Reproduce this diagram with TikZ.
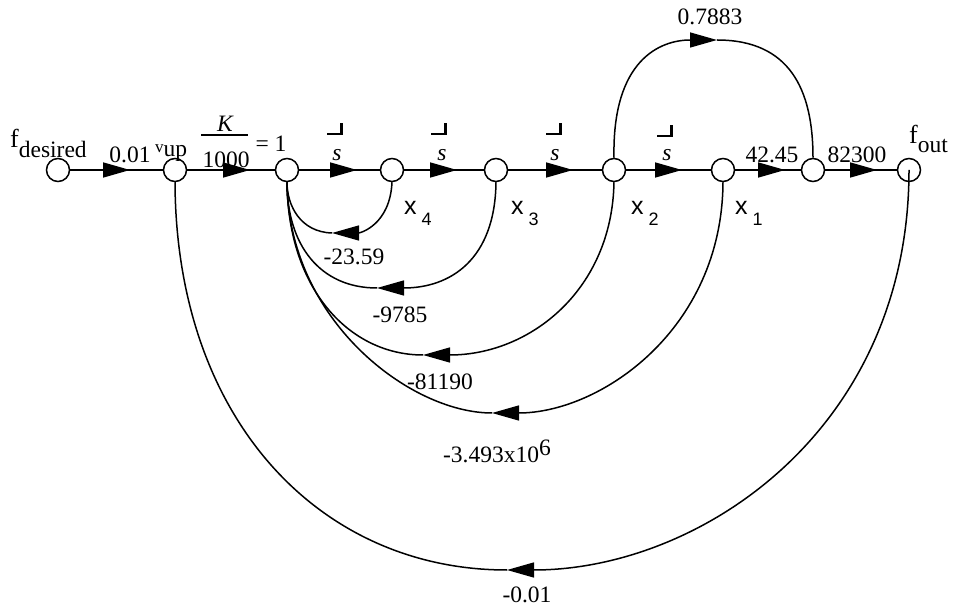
\documentclass[tikz,border=0pt]{standalone}
\usepackage{fontspec}
\setmainfont{Liberation Serif}
\newfontfamily\hv{Liberation Sans}
\usetikzlibrary{arrows.meta,decorations.markings}
\tikzset{
  sig/.style={circle,draw,line width=1.5pt,minimum size=23pt,inner sep=0pt},
  br/.style={line width=1.5pt},
  tipend/.style={-{Triangle[length=27pt,width=15pt]}},
  midarrow/.style={postaction={decorate},decoration={markings,mark=at position #1 with {\arrow{Triangle[length=27pt,width=15pt]}}}},
  lab/.style={font=\fontsize{23.5}{28}\selectfont,inner sep=0pt,anchor=base},
  xlab/.style={font=\hv\fontsize{25}{28}\selectfont,inner sep=0pt,anchor=base west},
  glyph/.style={inner sep=0pt,anchor=base},
}
\newcommand{\opsub}[1]{\hspace{5pt}\raisebox{-11pt}{\fontsize{18}{20}\selectfont #1}}
\newcommand{\intg}{\rule{13pt}{1.5pt}\rule{2.2pt}{12pt}}
\newcommand{\bigf}{{\fontsize{26}{30}\selectfont f}}
\begin{document}
\begin{tikzpicture}[x=1pt,y=-1pt]
\useasboundingbox (0,0) rectangle (956,609);
% signal nodes
\node[sig] (fd)   at (58,170) {};
\node[sig] (vup)  at (175,170) {};
\node[sig] (n3)   at (287,170) {};
\node[sig] (x4)   at (392,170) {};
\node[sig] (x3)   at (496,170) {};
\node[sig] (x2)   at (614,170) {};
\node[sig] (x1)   at (723,170) {};
\node[sig] (n7)   at (813,170) {};
\node[sig] (fout) at (909,170) {};
% forward branches
\draw[br,midarrow=59.8pt] (fd) -- (vup);
\draw[br,midarrow=62.8pt] (vup) -- (n3);
\draw[br,midarrow=57.8pt] (n3) -- (x4);
\draw[br,midarrow=52.8pt] (x4) -- (x3);
\draw[br,midarrow=64.8pt] (x3) -- (x2);
\draw[br,midarrow=55.8pt] (x2) -- (x1);
\draw[br,midarrow=49.8pt] (x1) -- (n7);
\draw[br,midarrow=51.8pt] (n7) -- (fout);
% feed-forward 0.7883
\coordinate (ta) at (717,40);
\draw[br,tipend] (x2.north) .. controls (612,60) and (660,40) .. (ta);
\draw[br] (ta) .. controls (790,40) and (813,90) .. (n7.north);
% feedback branches
\coordinate (t4) at (332,233);
\draw[br,tipend] (x4.south) .. controls (390,225) and (360,233) .. (t4);
\draw[br] (t4) .. controls (300,232) and (287,205) .. (n3.south);
\coordinate (t3) at (377,288);
\draw[br,tipend] (x3.south) .. controls (495,260) and (450,288) .. (t3);
\draw[br] (t3) .. controls (320,288) and (287,245) .. (n3.south);
\coordinate (t2) at (423,355);
\draw[br,tipend] (x2.south) .. controls (612,290) and (530,355) .. (t2);
\draw[br] (t2) .. controls (350,355) and (288,290) .. (n3.south);
\coordinate (t1) at (492,413);
\draw[br,tipend] (x1.south) .. controls (722,330) and (600,413) .. (t1);
\draw[br] (t1) .. controls (410,413) and (288,320) .. (n3.south);
\coordinate (t0) at (507,570);
\draw[br,tipend] (fout.center) .. controls (909,430) and (700,570) .. (t0);
\draw[br] (t0) .. controls (320,570) and (176,420) .. (vup.south);
% labels
\node[lab,anchor=base west] (lfd) at (10,148) {\bigf\raisebox{-10pt}{desired}};
\node[lab] (l1) at (130,163) {0.01};
\node[lab,anchor=base west] (lvup) at (155,157) {\raisebox{4pt}{\fontsize{17}{18}\selectfont v}up};
\node[lab] (lk) at (225,132) {\itshape K};
\draw[br] (201,135) -- (248,135);
\node[lab] (lkd) at (226,168) {1000};
\node[lab] (leq) at (271,152) {= 1};
\node[glyph] (g1) at (335,135) {\intg};
\node[glyph] (g2) at (439,135) {\intg};
\node[glyph] (g3) at (554,135) {\intg};
\node[glyph] (g4) at (665,137) {\intg};
\node[lab] (s1) at (337,161) {\itshape s};
\node[lab] (s2) at (442,161) {\itshape s};
\node[lab] (s3) at (555,161) {\itshape s};
\node[lab] (s4) at (667,161) {\itshape s};
\node[lab] (l42) at (772,163) {42.45};
\node[lab] (l823) at (857,163) {82300};
\node[lab,anchor=base west] (lfo) at (909,144) {\bigf\raisebox{-9pt}{out}};
\node[lab] (l788) at (710,25) {0.7883};
\node[lab] (l23) at (354,265) {-23.59};
\node[lab] (l97) at (400,323) {-9785};
\node[lab] (l81) at (440,390) {-81190};
\node[lab] (l34) at (497,463) {-3.493x10\raisebox{8pt}{6}};
\node[lab] (l001) at (527,602) {-0.01};
\node[xlab] (lx4) at (404,215) {x\opsub{4}};
\node[xlab] (lx3) at (511,215) {x\opsub{3}};
\node[xlab] (lx2) at (631,215) {x\opsub{2}};
\node[xlab] (lx1) at (735,215) {x\opsub{1}};
\end{tikzpicture}
\end{document}
